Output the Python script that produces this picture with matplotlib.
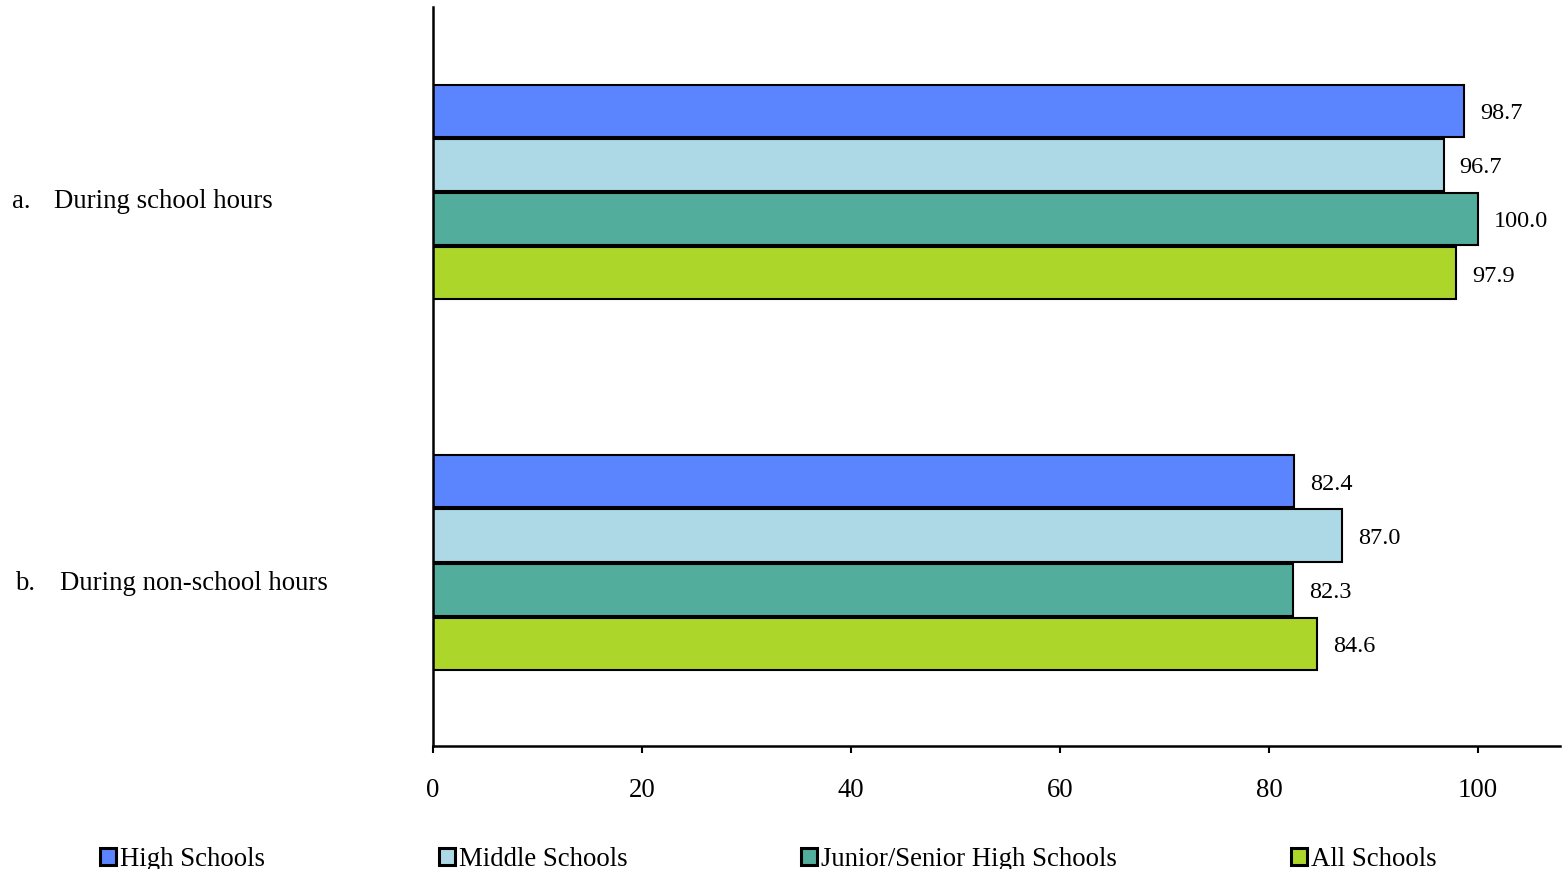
import matplotlib
matplotlib.use("Agg")
import matplotlib.pyplot as plt
import numpy as np

categories = ["During school hours", "During non-school hours"]
cat_prefix = ["a.", "b."]
series = ["High Schools", "Middle Schools", "Junior/Senior High Schools", "All Schools"]
values = {
    "High Schools": [98.7, 82.4],
    "Middle Schools": [96.7, 87.0],
    "Junior/Senior High Schools": [100.0, 82.3],
    "All Schools": [97.9, 84.6],
}
colors = ["#5B84FF", "#ADD8E6", "#52AD9C", "#ADD62A"]
xticks = [0, 20, 40, 60, 80, 100]

plt.rcParams['font.family'] = ['Liberation Serif', 'DejaVu Serif']
W, H = 1567, 870
fig = plt.figure(figsize=(W/100, H/100), dpi=100)
ax = fig.add_axes([433/W, 1-747/H, (1560-433)/W, (747-8)/H])

bh = 52/370
pitch = 54/370
y0 = np.arange(len(categories))
fs = 19.3
for i, s in enumerate(series):
    ys = y0 + (i - 1.5) * pitch
    bars = ax.barh(ys, values[s], height=bh, color=colors[i], edgecolor='black',
                   linewidth=1.5, label=s)
    for b, v in zip(bars, values[s]):
        ax.annotate(f"{v:.1f}", (v, b.get_y() + b.get_height()/2),
                    xytext=(16, -2), textcoords='offset pixels',
                    ha='left', va='center', fontsize=17.5)

ax.set_ylim(1.495, -0.499)
ax.set_xlim(0, (1560-433)/10.45)
ax.set_yticks([])
ax.set_xticks(xticks)
ax.set_xticklabels([str(t) for t in xticks], fontsize=fs)
ax.tick_params(axis='x', direction='out', length=5, width=1.5, pad=17)
for sp in ['top', 'right']:
    ax.spines[sp].set_visible(False)
for sp in ['left', 'bottom']:
    ax.spines[sp].set_linewidth(1.8)

# category labels
label_pos = [(12, 54, 201), (15, 60, 584)]
for (xa, xb, yp), pre, cat in zip(label_pos, cat_prefix, categories):
    fig.text(xa/W, 1-yp/H, pre, ha='left', va='center', fontsize=fs)
    fig.text(xb/W, 1-yp/H, cat, ha='left', va='center', fontsize=fs)

handles, labels = ax.get_legend_handles_labels()
leg = fig.legend(handles, labels, loc='center left', bbox_to_anchor=(100/W, 1-860/H),
                 ncol=4, frameon=False, fontsize=fs, handlelength=0.6, handleheight=0.6,
                 handletextpad=0.15, columnspacing=6.48, borderaxespad=0, borderpad=0)
for p in leg.get_patches():
    p.set_linewidth(2.2)

fig.savefig("out.png", dpi=100)
